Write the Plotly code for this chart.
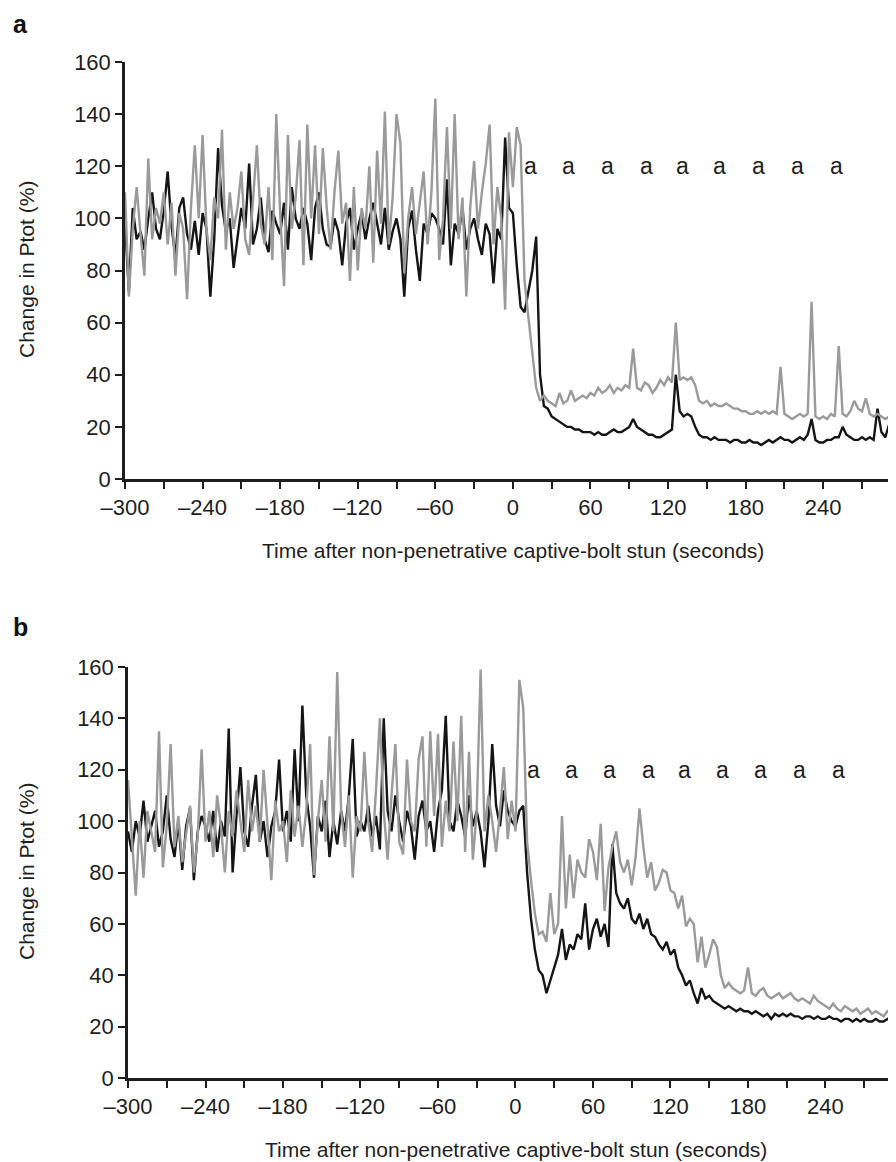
import plotly.graph_objects as go

# time axis: one sample every 3 s, from -300 s to 297 s
time_s = list(range(-300, 300, 3))

# panel a, black trace
a_black = [
    98, 72, 104, 92, 95, 88, 100, 110, 96, 92, 103, 118, 97, 85, 104, 108, 94, 88, 99, 86,
    102, 96, 70, 92, 127, 105, 95, 100, 81, 93, 104, 96, 121, 90, 96, 108, 92, 87, 103, 98,
    94, 106, 88, 112, 100, 96, 104, 98, 84, 104, 110, 96, 90, 89, 100, 95, 82, 98, 104, 88,
    96, 102, 92, 100, 106, 98, 90, 104, 88, 95, 100, 92, 70, 96, 103, 88, 76, 98, 94, 102,
    100, 96, 90, 115, 82, 98, 94, 104, 88, 96, 100, 92, 86, 98, 94, 75, 96, 92, 131, 104,
    102, 82, 66, 64, 72, 80, 93, 40, 28, 27, 24, 23, 22, 21, 20, 20, 19, 19, 18, 18,
    18, 17, 18, 17, 17, 18, 19, 18, 18, 19, 20, 23, 20, 19, 18, 17, 17, 16, 16, 17,
    18, 19, 40, 26, 24, 25, 24, 20, 17, 16, 16, 15, 16, 15, 15, 15, 14, 15, 15, 14,
    14, 15, 14, 14, 13, 14, 15, 14, 15, 16, 15, 15, 14, 15, 16, 15, 17, 23, 15, 14,
    14, 15, 15, 16, 16, 20, 17, 16, 15, 15, 16, 15, 16, 15, 27, 18, 16, 21, 17, 16,
]

# panel a, grey trace
a_grey = [
    110, 70, 96, 112, 94, 78, 123, 92, 104, 98, 110, 90, 106, 78, 102, 96, 69, 104, 128, 100,
    132, 96, 84, 108, 100, 134, 88, 110, 96, 104, 118, 92, 86, 106, 128, 98, 90, 112, 84, 140,
    102, 74, 132, 96, 108, 130, 82, 136, 100, 128, 94, 127, 104, 88, 110, 126, 98, 106, 76, 112,
    80, 104, 96, 120, 83, 126, 98, 141, 90, 108, 140, 129, 79, 100, 112, 94, 106, 118, 90, 110,
    146, 84, 100, 135, 96, 140, 92, 108, 70, 104, 122, 96, 110, 121, 136, 90, 112, 100, 65, 133,
    112, 135, 128, 76, 62, 48, 35, 30, 32, 30, 29, 28, 33, 29, 30, 34, 30, 31, 32, 31,
    33, 32, 35, 33, 34, 36, 33, 35, 34, 36, 35, 50, 35, 34, 37, 36, 33, 35, 38, 36,
    39, 37, 60, 38, 39, 38, 39, 36, 30, 29, 30, 28, 29, 28, 28, 29, 28, 27, 27, 26,
    26, 25, 25, 26, 25, 26, 25, 26, 25, 43, 25, 24, 23, 24, 25, 24, 25, 68, 24, 23,
    24, 23, 25, 24, 51, 25, 24, 26, 30, 27, 26, 31, 25, 24, 25, 24, 23, 24, 23, 23,
]

# panel b, black trace
b_black = [
    96, 88, 100, 94, 108, 92, 98, 104, 90, 96, 110, 93, 86, 100, 81, 98, 105, 77, 96, 102,
    98, 92, 104, 88, 100, 94, 136, 80, 102, 121, 96, 90, 106, 118, 92, 100, 86, 98, 104, 124,
    96, 104, 92, 128, 100, 145, 110, 98, 78, 102, 96, 108, 86, 100, 91, 104, 96, 110, 132, 94,
    100, 96, 106, 94, 102, 89, 140, 104, 96, 110, 100, 92, 104, 98, 85, 102, 108, 96, 100, 88,
    104, 112, 141, 100, 96, 108, 102, 94, 110, 98, 104, 96, 82, 100, 130, 106, 98, 112, 104, 100,
    98, 104, 106, 80, 62, 50, 42, 40, 33, 38, 44, 48, 58, 46, 52, 50, 56, 54, 68, 50,
    58, 62, 55, 60, 51, 91, 72, 68, 66, 70, 62, 60, 64, 58, 62, 56, 55, 52, 50, 53,
    48, 50, 43, 40, 36, 38, 33, 29, 35, 31, 32, 30, 29, 28, 27, 28, 27, 26, 27, 26,
    26, 25, 26, 25, 24, 25, 23, 25, 24, 25, 24, 25, 24, 24, 23, 24, 24, 23, 24, 23,
    23, 24, 23, 23, 22, 23, 23, 22, 23, 22, 23, 22, 22, 23, 22, 22, 23, 22, 22, 22,
]

# panel b, grey trace
b_grey = [
    116, 92, 71, 100, 78, 104, 96, 88, 135, 82, 98, 130, 90, 102, 84, 96, 106, 80, 94, 128,
    92, 104, 86, 110, 98, 80, 104, 94, 112, 100, 88, 116, 96, 106, 92, 120, 100, 77, 108, 96,
    100, 84, 112, 94, 106, 90, 104, 130, 79, 100, 116, 92, 133, 96, 158, 104, 90, 110, 78, 102,
    96, 127, 100, 88, 112, 140, 104, 85, 110, 130, 92, 87, 124, 100, 96, 124, 133, 90, 135, 102,
    134, 90, 108, 96, 131, 100, 141, 88, 127, 85, 104, 159, 96, 110, 100, 88, 104, 121, 93, 108,
    96, 155, 144, 92, 77, 64, 56, 57, 53, 72, 56, 60, 102, 66, 87, 70, 85, 80, 78, 93,
    88, 77, 99, 65, 82, 90, 96, 84, 80, 85, 75, 86, 105, 90, 78, 84, 73, 76, 81, 80,
    73, 72, 66, 71, 59, 62, 60, 45, 55, 43, 48, 54, 51, 40, 35, 37, 35, 34, 33, 34,
    43, 33, 32, 34, 35, 32, 31, 32, 33, 31, 32, 33, 31, 30, 31, 30, 29, 32, 30, 29,
    28, 27, 29, 27, 26, 28, 27, 26, 27, 25, 26, 27, 25, 26, 25, 24, 26, 25, 24, 25,
]

# significance markers ("a") above the post-stun period
sig_times = [14, 43, 73, 103, 131, 160, 190, 220, 250]
sig_level = 120

x_tickvals = list(range(-300, 300, 30))
x_ticktext = [f"{v}".replace("-", "\u2013") if v % 60 == 0 else "" for v in x_tickvals]
y_tickvals = list(range(0, 161, 20))

# the page body has an 8 px margin, so the figure is drawn 8 px smaller
OFF = 8
W, H = 896 - OFF, 1162 - OFF
# plotting region in window pixels (left, right, top, bottom)
L, R, T, B = 125, 896, 62, 1078
BLACK = "#151515"
GREY = "#9a9a9a"
AXIS = "#1e1e1e"
FONT = "Liberation Sans, Arial, sans-serif"


def fx(x):
    return (x - L) / (R - L)


def fy(y):
    return (B - y) / (B - T)


fig = go.Figure()

panels = [
    ("x", "y", a_black, a_grey),
    ("x2", "y2", b_black, b_grey),
]
for xa, ya, blk, gry in panels:
    fig.add_trace(go.Scatter(x=time_s, y=blk, xaxis=xa, yaxis=ya, mode="lines",
                             line=dict(color=BLACK, width=2.4), showlegend=False))
    fig.add_trace(go.Scatter(x=time_s, y=gry, xaxis=xa, yaxis=ya, mode="lines",
                             line=dict(color=GREY, width=2.4), showlegend=False))

axis_common = dict(
    showgrid=False, zeroline=False, showline=True, linecolor=AXIS, linewidth=2.5,
    ticks="outside", ticklen=7, tickwidth=2, tickcolor=AXIS, automargin=False,
    tickfont=dict(family=FONT, size=22, color=AXIS),
)

fig.update_layout(
    width=W, height=H,
    margin=dict(l=L - OFF, r=896 - R, t=T - OFF, b=1162 - B, autoexpand=False),
    paper_bgcolor="white", plot_bgcolor="white",
    font=dict(family=FONT, color=AXIS),
    xaxis=dict(domain=[0, 1], range=[-300, 296.3], anchor="y",
               tickmode="array", tickvals=x_tickvals, ticktext=x_ticktext, **axis_common),
    yaxis=dict(domain=[fy(479), 1], range=[0, 160], anchor="x",
               tickmode="array", tickvals=y_tickvals, **axis_common),
    xaxis2=dict(domain=[fx(128), 1], range=[-300, 294.6], anchor="y2",
                tickmode="array", tickvals=x_tickvals, ticktext=x_ticktext, **axis_common),
    yaxis2=dict(domain=[0, fy(667)], range=[0, 160], anchor="x2",
                tickmode="array", tickvals=y_tickvals, **axis_common),
)

annotations = []
for xa, ya in [("x", "y"), ("x2", "y2")]:
    for t in sig_times:
        annotations.append(dict(x=t, y=sig_level, xref=xa, yref=ya, text="a",
                                showarrow=False, font=dict(family=FONT, size=23, color=AXIS),
                                xanchor="center", yanchor="middle"))

x_title = "Time after non-penetrative captive-bolt stun (seconds)"
y_title = "Change in Ptot (%)"
for x_center, y_center, y_axis_mid, letter, letter_y in [
    (513, 550, 270, "a", 24),
    (516, 1149, 872, "b", 627),
]:
    annotations.append(dict(x=fx(x_center), y=fy(y_center), xref="paper", yref="paper",
                            text=x_title, showarrow=False, xanchor="center", yanchor="middle",
                            font=dict(family=FONT, size=21, color=AXIS)))
    annotations.append(dict(x=fx(26), y=fy(y_axis_mid), xref="paper", yref="paper",
                            text=y_title, showarrow=False, textangle=-90,
                            xanchor="center", yanchor="middle",
                            font=dict(family=FONT, size=21, color=AXIS)))
    annotations.append(dict(x=fx(20), y=fy(letter_y), xref="paper", yref="paper",
                            text="<b>" + letter + "</b>", showarrow=False,
                            xanchor="center", yanchor="middle",
                            font=dict(family=FONT, size=25, color="#111111")))

fig.update_layout(annotations=annotations)

fig.write_html("out.html")
